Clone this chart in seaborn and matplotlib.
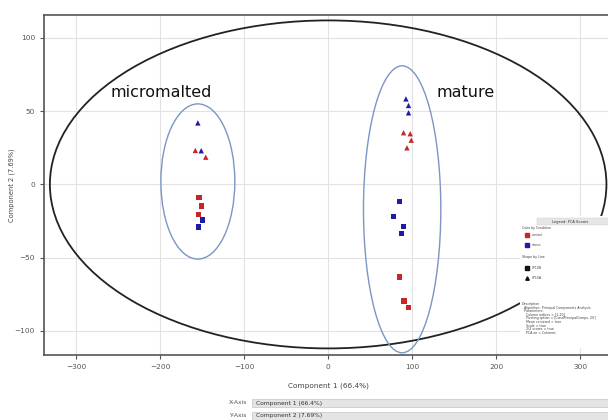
import numpy as np
import pandas as pd
import seaborn as sns
import matplotlib
matplotlib.use("Agg")
import matplotlib.pyplot as plt
from matplotlib.patches import Ellipse, Rectangle

# ---- data ----
pc1 = [-155, -158, -151, -145.6, -153.6, -150.4, -154.4, -149.6, -154.4,
       92.5, 95.6, 95.6, 89.7, 97.6, 98.8, 93.7,
       84.5, 77.4, 89.3, 86.9, 84.9, 90.1, 95.2]
pc2 = [42, 23.2, 23, 18.6, -8.9, -14.8, -20.5, -24.3, -29.1,
       58.4, 53.9, 48.9, 35.3, 34.6, 30.2, 25,
       -11.8, -21.8, -28.6, -33.6, -63.2, -79.6, -84.1]
condition = ["stress", "control", "stress", "control", "control", "control", "control", "stress", "stress",
             "stress", "stress", "stress", "control", "control", "control", "control",
             "stress", "stress", "stress", "stress", "control", "control", "control"]
line = ["LP10A", "LP10A", "LP10A", "LP10A", "LP10B", "LP10B", "LP10B", "LP10B", "LP10B",
        "LP10A", "LP10A", "LP10A", "LP10A", "LP10A", "LP10A", "LP10A",
        "LP10B", "LP10B", "LP10B", "LP10B", "LP10B", "LP10B", "LP10B"]

group_labels = ["micromalted", "mature"]
group_label_x = [-259, 129]
group_label_y = [63, 63]
group_ell_cx = [-155, 88]
group_ell_cy = [2, -17]
group_ell_w = [88, 92]
group_ell_h = [106, 196]

outer_cx, outer_cy, outer_w, outer_h = 0, 0, 662, 224

x_ticks = [-300, -200, -100, 0, 100, 200, 300]
y_ticks = [-100, -50, 0, 50, 100]

df = pd.DataFrame({"pc1": pc1, "pc2": pc2, "Condition": condition, "Line": line})

palette = {"control": "#c8252b", "stress": "#1c1ca8"}
markers = {"LP10B": "s", "LP10A": "^"}

fig = plt.figure(figsize=(6.08, 4.2), dpi=100)
ax = fig.add_axes([44/608, (420-355)/420, (614-44)/608, 340/420])

sns.scatterplot(data=df, x="pc1", y="pc2", hue="Condition", style="Line",
                palette=palette, markers=markers, s=15, linewidth=0,
                legend=False, ax=ax, zorder=3)

ax.set_xlim(-338, 340)
ax.set_ylim(-116.5, 115.7)
ax.set_xticks(x_ticks)
ax.set_yticks(y_ticks)
ax.grid(True, color="#e2e2e2", linewidth=0.8, zorder=0)
ax.set_axisbelow(True)
for s in ["left", "top", "bottom"]:
    ax.spines[s].set_color("#555555")
    ax.spines[s].set_linewidth(1.2)
ax.spines["right"].set_visible(False)
ax.tick_params(axis="both", labelsize=5.3, labelcolor="#555555", color="#555555",
               length=3, width=0.8)
ax.set_xlabel("Component 1 (66.4%)", fontsize=5.3, color="#444444", labelpad=9)
ax.set_ylabel("Component 2 (7.69%)", fontsize=4.8, color="#444444", labelpad=0)

ax.add_patch(Ellipse((outer_cx, outer_cy), outer_w, outer_h, fill=False,
                     edgecolor="#222222", linewidth=1.3, zorder=2))
for cx, cy, w, h in zip(group_ell_cx, group_ell_cy, group_ell_w, group_ell_h):
    ax.add_patch(Ellipse((cx, cy), w, h, fill=False, edgecolor="#7a96c4",
                         linewidth=1.0, zorder=2))
for t, x, y in zip(group_labels, group_label_x, group_label_y):
    ax.text(x, y, t, fontsize=11.5, color="#111111", va="center", ha="left",
            family="DejaVu Sans", zorder=4)

# ---- legend panel (figure pixel coords) ----
def fx(px):
    return px / 608
def fy(py):
    return 1 - py / 420

fig.patches.append(Rectangle((fx(520), fy(348)), fx(620) - fx(520), fy(216) - fy(348),
                             transform=fig.transFigure, facecolor="white",
                             edgecolor="none", zorder=5))
fig.patches.append(Rectangle((fx(537), fy(225)), fx(620) - fx(537), fy(218) - fy(225),
                             transform=fig.transFigure, facecolor="#e6e6e6",
                             edgecolor="#cccccc", linewidth=0.3, zorder=6))
fig.text(fx(570), fy(221.5), "Legend: PCA Scores", fontsize=2.6, ha="center", va="center",
         color="#333333", zorder=7)
small = dict(fontsize=2.3, color="#444444", va="center", ha="left", zorder=7)
fig.text(fx(522), fy(228), "Color by Condition", **small)
fig.text(fx(532), fy(235), "control", **small)
fig.text(fx(532), fy(245), "stress", **small)
fig.text(fx(522), fy(257), "Shape by Line", **small)
fig.text(fx(532), fy(268), "LP10B", **small)
fig.text(fx(532), fy(278), "LP10A", **small)
fig.lines.append(plt.Line2D([fx(527)], [fy(235)], marker="s", markersize=2.2, color="#c8252b",
                            linestyle="none", transform=fig.transFigure, zorder=7))
fig.lines.append(plt.Line2D([fx(527)], [fy(245)], marker="s", markersize=2.2, color="#1c1ca8",
                            linestyle="none", transform=fig.transFigure, zorder=7))
fig.lines.append(plt.Line2D([fx(527)], [fy(268)], marker="s", markersize=2.2, color="#111111",
                            linestyle="none", transform=fig.transFigure, zorder=7))
fig.lines.append(plt.Line2D([fx(527)], [fy(278)], marker="^", markersize=2.5, color="#111111",
                            linestyle="none", transform=fig.transFigure, zorder=7))
desc = ["Description", "  Algorithm: Principal Components Analysis", "  Parameters:",
        "    Column indices = [1-20]", "    Pivoting option = [CondPrincipalComps, 20]",
        "    Mean centered = true", "    Scale = true", "    2/2 scores = true",
        "    PCA on = Columns"]
for i, d in enumerate(desc):
    fig.text(fx(522), fy(304 + i * 3.6), d, **small)

# ---- bottom axis selectors ----
fig.text(fx(238), fy(403), "X-Axis", fontsize=4.3, ha="center", va="center", color="#555555")
fig.text(fx(238), fy(415.5), "Y-Axis", fontsize=4.3, ha="center", va="center", color="#555555")
for yy in (399, 411.5):
    fig.patches.append(Rectangle((fx(252), fy(yy + 8)), fx(620) - fx(252), fy(yy) - fy(yy + 8),
                                 transform=fig.transFigure, facecolor="#e4e4e4",
                                 edgecolor="#bbbbbb", linewidth=0.4))
fig.text(fx(256), fy(403), "Component 1 (66.4%)", fontsize=4.3, ha="left", va="center", color="#333333")
fig.text(fx(256), fy(415.5), "Component 2 (7.69%)", fontsize=4.3, ha="left", va="center", color="#333333")

fig.savefig("out.png", dpi=100)
